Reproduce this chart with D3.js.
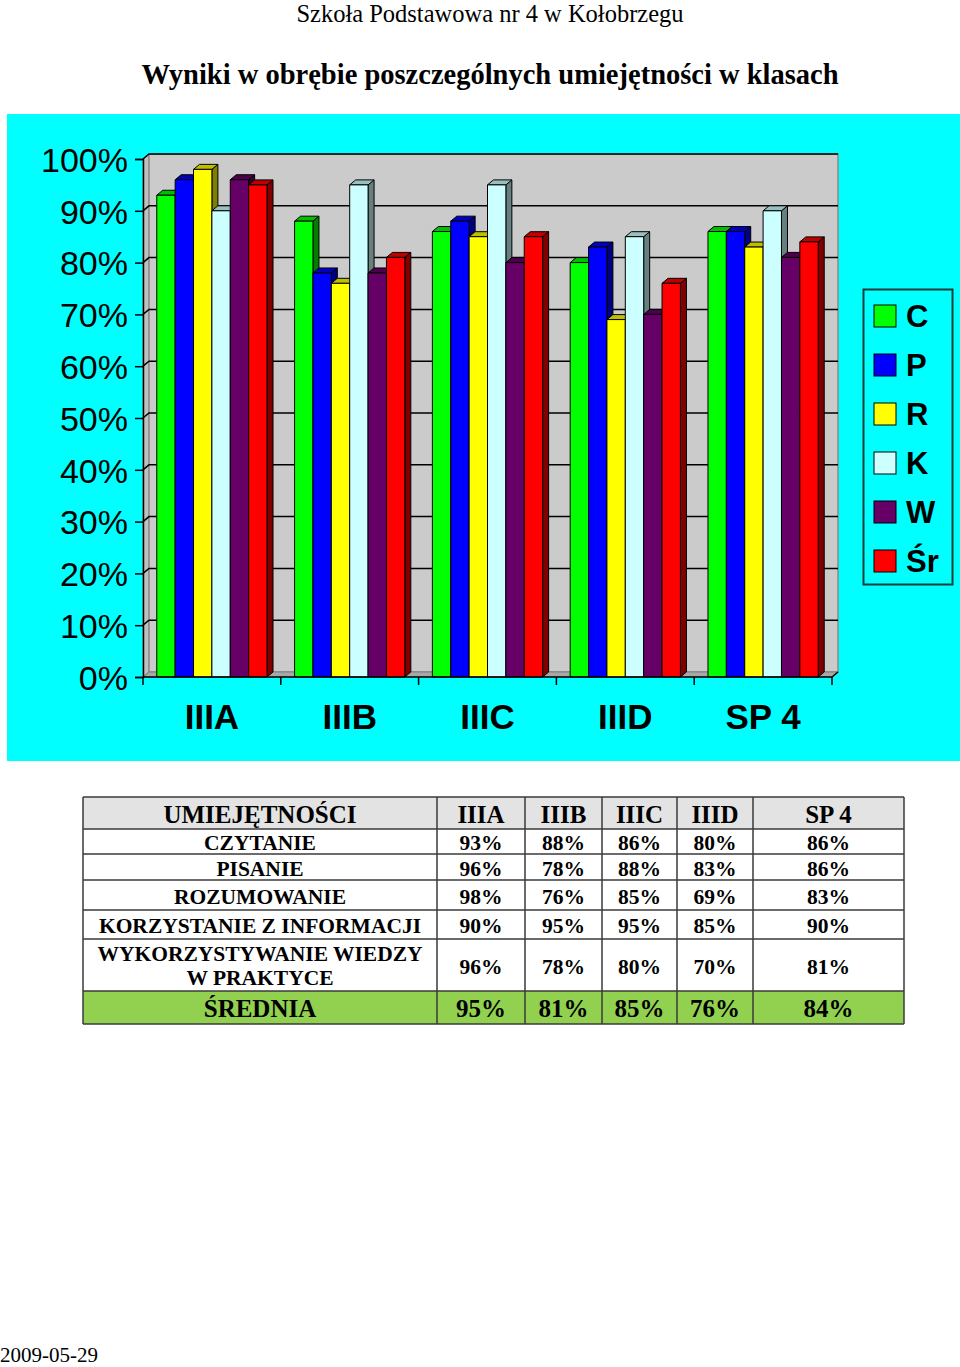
<!DOCTYPE html>
<html><head><meta charset="utf-8">
<script src="https://cdn.jsdelivr.net/npm/d3@7"></script>
<style>body{margin:0;background:#fff}svg{display:block}</style>
</head><body>
<script>
// ---- data ----
const classes = ["IIIA", "IIIB", "IIIC", "IIID", "SP 4"];
const seriesKeys = ["C", "P", "R", "K", "W", "Śr"];
const czytanie = [93, 88, 86, 80, 86];
const pisanie = [96, 78, 88, 83, 86];
const rozumowanie = [98, 76, 85, 69, 83];
const korzystanie = [90, 95, 95, 85, 90];
const wykorzystywanie = [96, 78, 80, 70, 81];
const srednia = [95, 81, 85, 76, 84];
const seriesColors = ["#00ff00", "#0000ff", "#ffff00", "#ccffff", "#660066", "#ff0000"];
const yTicks = [0, 10, 20, 30, 40, 50, 60, 70, 80, 90, 100];
const skillNames = ["CZYTANIE", "PISANIE", "ROZUMOWANIE", "KORZYSTANIE Z INFORMACJI", ["WYKORZYSTYWANIE WIEDZY", "W PRAKTYCE"], "ŚREDNIA"];
const headerLabel = "UMIEJĘTNOŚCI";
const seriesValues = [czytanie, pisanie, rozumowanie, korzystanie, wykorzystywanie, srednia];

const W = 960, H = 1367;
const svg = d3.select("body").append("svg").attr("width", W).attr("height", H);
const SERIF = "'Liberation Serif','Times New Roman',serif";
const SANS = "'Liberation Sans',Arial,sans-serif";

// titles
svg.append("text").attr("x", 490).attr("y", 22).attr("text-anchor", "middle")
  .attr("font-family", SERIF).attr("font-size", 24.5).text("Szkoła Podstawowa nr 4 w Kołobrzegu");
svg.append("text").attr("x", 490).attr("y", 84).attr("text-anchor", "middle")
  .attr("font-family", SERIF).attr("font-weight", "bold").attr("font-size", 28.5)
  .text("Wyniki w obrębie poszczególnych umiejętności w klasach");

// chart background
svg.append("rect").attr("x", 7).attr("y", 114).attr("width", 953).attr("height", 647).attr("fill", "#00ffff");

const x0 = 143, x1 = 832, yTop = 159, yBot = 677;
const dx = 6, dy = 5;
const y = d3.scaleLinear().domain([0, 100]).range([yBot, yTop]);
const x = d3.scaleBand().domain(classes).range([x0, x1]).paddingInner(0.2).paddingOuter(0.1);
const xs = d3.scaleBand().domain(seriesKeys).range([0, x.bandwidth()]);

const g = svg.append("g");
// side wall
g.append("path").attr("d", `M${x0},${yBot}L${x0+dx},${yBot-dy}L${x0+dx},${yTop-dy}L${x0},${yTop}Z`)
  .attr("fill", "#c0c0c0").attr("stroke", "#808080");
// back wall
g.append("rect").attr("x", x0 + dx).attr("y", yTop - dy).attr("width", x1 - x0).attr("height", yBot - yTop)
  .attr("fill", "#cbcbcb").attr("stroke", "#8a8a8a").attr("stroke-width", 1.5);
// floor
g.append("path").attr("d", `M${x0},${yBot}L${x1},${yBot}L${x1+dx},${yBot-dy}L${x0+dx},${yBot-dy}Z`)
  .attr("fill", "#a8a8a8").attr("stroke", "#808080");
// gridlines
yTicks.filter(t => t > 0).forEach(t => {
  g.append("path").attr("d", `M${x0},${y(t)}L${x0+dx},${y(t)-dy}L${x1+dx},${y(t)-dy}`)
    .attr("fill", "none").attr("stroke", "#000").attr("stroke-width", 1.5);
});

// bars
function shade(c, k) { const r = d3.rgb(c); return d3.rgb(r.r * k, r.g * k, r.b * k).formatHex(); }
classes.forEach((cl, ci) => {
  seriesKeys.forEach((s, si) => {
    const v = seriesValues[si][ci];
    const bx = x(cl) + xs(s), bw = xs.bandwidth(), by = y(v);
    const col = seriesColors[si];
    const bg = g.append("g").attr("stroke", "#000").attr("stroke-width", 1).attr("stroke-linejoin", "round");
    bg.append("path").attr("d", `M${bx+bw},${by}L${bx+bw+dx},${by-dy}L${bx+bw+dx},${yBot-dy}L${bx+bw},${yBot}Z`)
      .attr("fill", shade(col, 0.5));
    bg.append("path").attr("d", `M${bx},${by}L${bx+dx},${by-dy}L${bx+bw+dx},${by-dy}L${bx+bw},${by}Z`)
      .attr("fill", shade(col, 0.75));
    bg.append("rect").attr("x", bx).attr("y", by).attr("width", bw).attr("height", yBot - by).attr("fill", col);
  });
});

// y axis
const yAxis = svg.append("g").attr("transform", `translate(${x0},0)`)
  .call(d3.axisLeft(y).tickValues(yTicks).tickSize(8).tickPadding(7).tickFormat(d => d + "%"));
yAxis.select(".domain").attr("stroke", "#000").attr("stroke-width", 1.5);
yAxis.selectAll(".tick line").attr("stroke", "#000").attr("stroke-width", 1.5);
yAxis.selectAll("text").attr("font-family", SANS).attr("font-size", 34).attr("fill", "#000").attr("dy", "0.36em");

// x axis
svg.append("line").attr("x1", x0).attr("x2", x1).attr("y1", yBot).attr("y2", yBot).attr("stroke", "#000").attr("stroke-width", 1.5);
const tickXs = d3.range(classes.length + 1).map(i => x0 + (x1 - x0) * i / classes.length);
tickXs.forEach(tx => svg.append("line").attr("x1", tx).attr("x2", tx).attr("y1", yBot).attr("y2", yBot + 8).attr("stroke", "#000").attr("stroke-width", 1.5));
svg.append("line").attr("x1", x1).attr("x2", x1 + dx).attr("y1", yBot).attr("y2", yBot - dy).attr("stroke", "#000").attr("stroke-width", 1.5);
const xAxis = svg.append("g").attr("transform", `translate(0,${yBot})`)
  .call(d3.axisBottom(x).tickSize(0).tickPadding(0));
xAxis.select(".domain").remove();
xAxis.selectAll("text").attr("font-family", SANS).attr("font-weight", "bold").attr("font-size", 35)
  .attr("fill", "#000").attr("dy", 0).attr("y", 52);

// legend
const lg = svg.append("g");
lg.append("rect").attr("x", 863.5).attr("y", 289.5).attr("width", 89).attr("height", 295)
  .attr("fill", "none").attr("stroke", "#1a3a3a").attr("stroke-width", 2);
seriesKeys.forEach((s, i) => {
  const cy = 316 + i * 49;
  lg.append("rect").attr("x", 874).attr("y", cy - 11).attr("width", 22).attr("height", 22)
    .attr("fill", seriesColors[i]).attr("stroke", "#000").attr("stroke-width", 1);
  lg.append("text").attr("x", 906).attr("y", cy + 11).attr("font-family", SANS).attr("font-weight", "bold")
    .attr("font-size", 31).text(s);
});

// table
const colX = [83, 437, 525, 602, 677, 753, 904];
const rowY = [797, 829, 854, 880, 910, 939, 991, 1024];
const tg = svg.append("g");
tg.append("rect").attr("x", colX[0]).attr("y", rowY[0]).attr("width", colX[6] - colX[0]).attr("height", rowY[1] - rowY[0]).attr("fill", "#e3e3e3");
tg.append("rect").attr("x", colX[0]).attr("y", rowY[6]).attr("width", colX[6] - colX[0]).attr("height", rowY[7] - rowY[6]).attr("fill", "#92d050");
rowY.forEach(ry => tg.append("line").attr("x1", colX[0]).attr("x2", colX[6]).attr("y1", ry).attr("y2", ry).attr("stroke", "#3a3a3a").attr("stroke-width", 1.5));
colX.forEach(cx => tg.append("line").attr("x1", cx).attr("x2", cx).attr("y1", rowY[0]).attr("y2", rowY[7]).attr("stroke", "#3a3a3a").attr("stroke-width", 1.5));
function cellText(ci, ri, txt, size, yoff) {
  const cx = (colX[ci] + colX[ci + 1]) / 2, cy = (rowY[ri] + rowY[ri + 1]) / 2 + (yoff || 0);
  tg.append("text").attr("x", cx).attr("y", cy).attr("dy", "0.35em").attr("text-anchor", "middle")
    .attr("font-family", SERIF).attr("font-weight", "bold").attr("font-size", size).text(txt);
}
cellText(0, 0, headerLabel, 25, 1);
classes.forEach((c, i) => cellText(i + 1, 0, c, 25, 1));
skillNames.forEach((n, ri) => {
  const size = ri === 5 ? 25 : 21.5;
  if (Array.isArray(n)) {
    cellText(0, ri + 1, n[0], size, -12);
    cellText(0, ri + 1, n[1], size, 12);
  } else cellText(0, ri + 1, n, size, 1);
  classes.forEach((c, ci) => cellText(ci + 1, ri + 1, seriesValues[ri][ci] + "%", size, 1));
});

svg.append("text").attr("x", 0).attr("y", 1362).attr("font-family", SERIF).attr("font-size", 21).text("2009-05-29");
</script>
</body></html>
